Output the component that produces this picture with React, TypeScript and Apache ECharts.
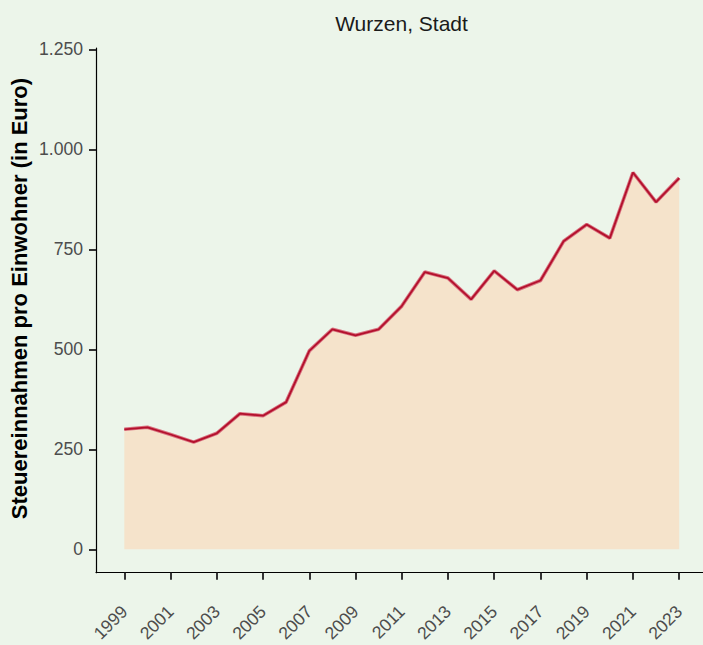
import React, { useEffect, useRef } from "react";
import * as echarts from "echarts";

const title = "Wurzen, Stadt";
const yTitle = "Steuereinnahmen pro Einwohner (in Euro)";
const years = [1999, 2000, 2001, 2002, 2003, 2004, 2005, 2006, 2007, 2008, 2009, 2010, 2011, 2012, 2013, 2014, 2015, 2016, 2017, 2018, 2019, 2020, 2021, 2022, 2023];
const values = [300, 305, 287, 268, 290, 339, 334, 368, 496, 550, 535, 550, 608, 693, 678, 625, 696, 649, 672, 770, 812, 778, 942, 868, 928];
const xTicks = [1999, 2001, 2003, 2005, 2007, 2009, 2011, 2013, 2015, 2017, 2019, 2021, 2023];
const yTicks = [0, 250, 500, 750, 1000, 1250];

const FONT = "'Liberation Sans', Arial, sans-serif";

function fmt(v: number): string {
  return String(Math.round(v)).replace(/\B(?=(\d{3})+(?!\d))/g, ".");
}

export default function App() {
  const ref = useRef<HTMLDivElement>(null);
  useEffect(() => {
    if (!ref.current) return;
    const chart = echarts.init(ref.current, null, { renderer: "svg" });
    const pts = years.map((y, i) => [y, values[i]]);
    chart.setOption({
      animation: false,
      backgroundColor: "#ecf5ea",
      grid: { left: 96, right: 0, top: 48, bottom: 72.3, containLabel: false, outerBoundsMode: "none" },
      xAxis: {
        type: "value",
        min: 1997.775,
        max: 2024.03,
        splitLine: { show: false },
        axisLine: { show: true, onZero: false, lineStyle: { color: "#000", width: 1.2 } },
        axisTick: { show: true, customValues: xTicks, length: 7, lineStyle: { color: "#333", width: 2 } },
        axisLabel: {
          customValues: xTicks,
          rotate: 45,
          margin: 36,
          color: "#4d4d4d",
          fontSize: 17.6,
          fontFamily: FONT,
          formatter: (v: number) => String(v),
        },
      },
      yAxis: {
        type: "value",
        min: -58.5,
        max: 1253.3,
        splitLine: { show: false },
        axisLine: { show: true, onZero: false, lineStyle: { color: "#000", width: 1.2 } },
        axisTick: { show: true, customValues: yTicks, length: 7, lineStyle: { color: "#333", width: 2 } },
        axisLabel: {
          customValues: yTicks,
          margin: 13,
          color: "#4d4d4d",
          fontSize: 17.6,
          fontFamily: FONT,
          formatter: (v: number) => fmt(v),
        },
      },
      graphic: [
        {
          type: "text",
          x: 401.5,
          y: 23,
          style: {
            text: title,
            fill: "#1a1a1a",
            font: `21px ${FONT}`,
            textAlign: "center",
            textVerticalAlign: "middle",
          },
        },
        {
          type: "text",
          x: 19,
          y: 298.5,
          rotation: Math.PI / 2,
          style: {
            text: yTitle,
            fill: "#000",
            font: `bold 22px ${FONT}`,
            textAlign: "center",
            textVerticalAlign: "middle",
          },
        },
      ],
      series: [
        {
          type: "line",
          data: pts,
          symbol: "none",
          lineStyle: { color: "#d9707f", width: 3.6 },
          areaStyle: { color: "#f5e3cb", opacity: 1 },
          z: 2,
        },
        {
          type: "line",
          data: pts,
          symbol: "none",
          lineStyle: { color: "#b3102c", width: 1.8 },
          z: 3,
        },
      ],
    });
    return () => chart.dispose();
  }, []);
  return <div ref={ref} style={{ position: "fixed", left: 0, top: 0, width: 703, height: 645 }} />;
}
